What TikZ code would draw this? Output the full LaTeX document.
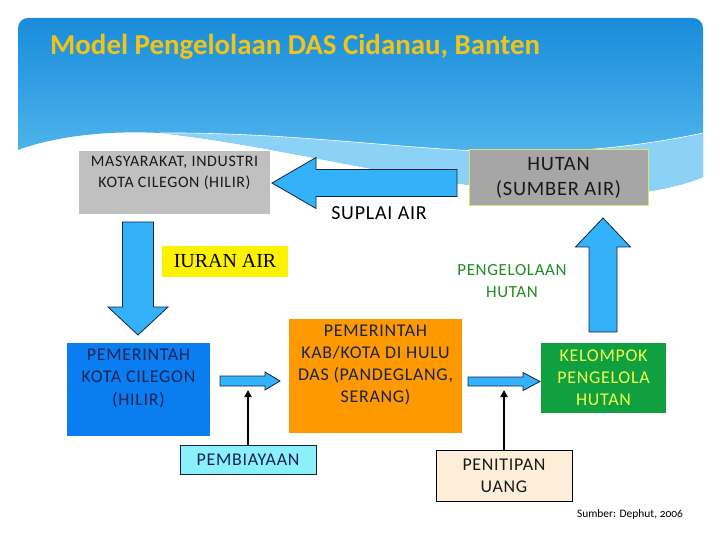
\documentclass[tikz,border=0pt]{standalone}
\usepackage{fontspec}
\setmainfont{Carlito}
\newfontfamily\spacedfont[LetterSpace=4]{Carlito}
\newfontfamily\serifont{Liberation Serif}
\newfontfamily\notefont[Numbers=OldStyle]{Carlito}
\usetikzlibrary{positioning}
\usetikzlibrary{calc}
\usetikzlibrary{arrows.meta}
\definecolor{skytop}{RGB}{25,140,218}
\definecolor{skybottom}{RGB}{95,192,240}
\definecolor{skyband}{RGB}{140,210,246}
\definecolor{titlegold}{RGB}{242,196,24}
\definecolor{arrowblue}{RGB}{51,178,250}
\definecolor{arrowline}{RGB}{20,35,70}
\definecolor{boxgray}{RGB}{192,192,192}
\definecolor{hutangray}{RGB}{166,166,166}
\definecolor{hutanedge}{RGB}{225,225,110}
\definecolor{leafgreen}{RGB}{30,140,30}
\definecolor{cityblue}{RGB}{10,125,240}
\definecolor{upstream}{RGB}{255,153,0}
\definecolor{payblue}{RGB}{140,240,250}
\definecolor{groupgreen}{RGB}{16,160,64}
\definecolor{groupyellow}{RGB}{240,255,80}
\definecolor{deposit}{RGB}{253,238,217}
\definecolor{inknavy}{RGB}{25,35,85}
\definecolor{inkdark}{RGB}{25,25,25}

% block arrow: tail x, tail y, rotation, length, half shaft, half head, head length
\newcommand{\blockarrow}[7]{%
  \begin{scope}[shift={(#1,#2)}, rotate=#3]
    \draw[flowarrow] (0,-#5) -- ({#4-#7},-#5) -- ({#4-#7},-#6) -- (#4,0)
      -- ({#4-#7},#6) -- ({#4-#7},#5) -- (0,#5) -- cycle;
  \end{scope}}
% text hung from the top of a box: width, height, top gap, text
\newcommand{\toptext}[4]{\parbox[c][#2][t]{#1}{\centering\vspace*{#3}#4\par}}

\begin{document}
\begin{tikzpicture}[x=1bp, y=-1bp,
    box/.style={inner sep=0pt, align=center, font=\spacedfont\fontsize{18}{22}\selectfont},
    panel/.style={inner sep=0pt, font=\spacedfont\fontsize{18}{22}\selectfont},
    flowarrow/.style={fill=arrowblue, draw=arrowline, line width=0.8bp},
    payarrow/.style={-{Triangle[width=7bp,length=7bp]}, line width=2.5bp}]
    \useasboundingbox (0,0) rectangle (720,540);

    % Header
    \shade[top color=skytop, bottom color=skybottom]
        (18,60) [rounded corners=10bp] -- (18,18) -- (703,18) -- (703,60) [sharp corners]
        -- (703,177) .. controls (690,183) and (650,195) .. (600,195)
        .. controls (450,195) and (300,148) .. (160,133)
        .. controls (100,130) and (50,138) .. (18,150) -- cycle;
    \fill[skyband] (160,133) .. controls (300,132) and (420,152) .. (520,152)
        .. controls (600,152) and (660,142) .. (703,133) -- (703,177)
        .. controls (690,183) and (650,195) .. (600,195)
        .. controls (450,195) and (300,148) .. (160,133) -- cycle;
    \draw[white, line width=0.6bp] (160,133) .. controls (300,132) and (420,152) .. (520,152)
        .. controls (600,152) and (660,142) .. (703,133);
    \node[anchor=base west, inner sep=0pt, text=titlegold,
          font=\bfseries\fontsize{29}{32}\selectfont] (title) at (50,55)
        {Model Pengelolaan DAS Cidanau, Banten};

    % Water supply
    \node[panel, fill=boxgray, text=inkdark, font=\spacedfont\fontsize{16}{21}\selectfont]
        (masy) at (174.5,182.5) {\toptext{191bp}{63bp}{5.5bp}{MASYARAKAT, INDUSTRI\\KOTA CILEGON (HILIR)}};
    \node[box, fill=hutangray, draw=hutanedge, line width=1bp, minimum width=179bp,
          minimum height=56bp, text=inkdark, font=\spacedfont\fontsize{20.5}{25}\selectfont]
        (hutan) at (558.5,178) {HUTAN\\(SUMBER AIR)};
    \blockarrow{457}{183}{180}{185}{13.5}{25.5}{44}
    \node[font=\spacedfont\fontsize{20}{22}\selectfont] (suplai) at (379,213) {SUPLAI AIR};

    % Water fee
    \blockarrow{138}{222}{-90}{113}{15.5}{30}{28}
    \node[box, fill=yellow, minimum width=126bp, minimum height=31bp,
          font=\serifont\fontsize{20}{22}\selectfont] (iuran) at (225,261.5) {IURAN AIR};

    % Forest management
    \blockarrow{603}{332}{90}{114}{14}{27.5}{29}
    \node[box, text=leafgreen, font=\spacedfont\fontsize{17}{22}\selectfont]
        (kelola) at (512,281) {PENGELOLAAN\\HUTAN};

    % Payment chain
    \node[panel, fill=cityblue, text=inknavy, font=\spacedfont\fontsize{18}{22.5}\selectfont]
        (kota) at (138.5,389.5) {\toptext{143bp}{93bp}{6bp}{PEMERINTAH\\KOTA CILEGON\\(HILIR)}};
    \node[panel, fill=upstream, text=inknavy]
        (kab) at (375.5,376) {\toptext{173bp}{114bp}{6bp}{PEMERINTAH\\KAB/KOTA DI HULU\\DAS (PANDEGLANG,\\SERANG)}};
    \node[box, fill=groupgreen, text=groupyellow, minimum width=125bp, minimum height=70bp]
        (kelompok) at (603.5,378) {KELOMPOK\\PENGELOLA\\HUTAN};
    \blockarrow{220}{381}{0}{60}{5}{9}{15}
    \blockarrow{468}{381.5}{0}{72}{4.5}{9}{17}

    % Funding
    \coordinate (pay1) at (248,390);
    \coordinate (pay2) at (504,390);
    \node[box, fill=payblue, draw=arrowline, line width=1bp, minimum width=136bp,
          minimum height=29bp, text=inknavy] (biaya) at (248,459.5) {PEMBIAYAAN};
    \node[box, fill=deposit, draw=black, line width=1bp, minimum width=136bp,
          minimum height=51bp, text=inkdark] (titip) at (504,475.5) {PENITIPAN\\UANG};
    \draw[payarrow] (biaya) -- (pay1);
    \draw[payarrow] (titip) -- (pay2);

    \node[font=\notefont\fontsize{11.5}{13}\selectfont] (sumber) at (630,514) {Sumber: Dephut, 2006};
\end{tikzpicture}
\end{document}
